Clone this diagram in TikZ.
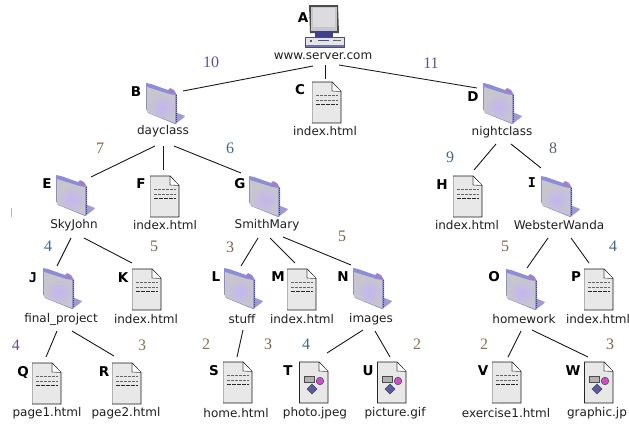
\documentclass[tikz,border=0pt]{standalone}
\usepackage{fontspec}
\setmainfont{DejaVu Sans}
\newfontfamily\weightfont{Liberation Serif}
\newfontfamily\slabfont{DejaVu Sans Mono}
\definecolor{wpurple}{HTML}{66508C}
\definecolor{wblue}{HTML}{40688C}
\definecolor{wbrown}{HTML}{7C6448}
\definecolor{wgold}{HTML}{8A7448}
\definecolor{wgrey}{HTML}{5E6470}
\definecolor{folderband}{HTML}{8C8CD8}
\definecolor{folderface}{HTML}{C6C6CC}
\definecolor{folderblob}{HTML}{C4B4F4}
\definecolor{foldershadow}{HTML}{9C9CD0}
\definecolor{folderedge}{HTML}{40407C}
\tikzset{
  x=1pt,y=-1pt,
  connector/.style={draw=black!90,line width=0.9pt},
  filename/.style={font=\fontsize{12}{12}\selectfont,text=black!88,inner sep=0pt,minimum height=12pt},
  lettermark/.style={font=\fontsize{13.5}{14}\selectfont\bfseries,inner sep=0pt},
  weightmark/.style={font=\weightfont\fontsize{16}{16}\selectfont,inner sep=0pt},
  iconbox/.style={anchor=north west,inner sep=0pt,outer sep=0pt},
  pics/folderpic/.style={code={
    \fill[fill=foldershadow] (30,29) -- (40,33) -- (37,36) -- (30,41) -- cycle;
    \fill[fill=folderband] (1,0) -- (6,1) -- (23,7) -- (25,5) -- (29,7) -- (32,12) -- (32,40) -- (30,41) -- (3,30) -- (1,26) -- cycle;
    \fill[fill=folderface] (2,4) -- (24,11) -- (30,12) -- (30,40) -- (2,29) -- cycle;
    \begin{scope}
      \clip (2,4) -- (24,11) -- (30,12) -- (30,40) -- (2,29) -- cycle;
      \shade[inner color=folderblob,outer color=folderface] (17,24) circle [radius=14pt];
    \end{scope}
    \draw[line width=1pt,draw=folderedge,densely dotted] (31,12) -- (31,40);
    \fill[fill=violet!60!white!85!pink] (24,6.5) -- (28,8) -- (29,11) -- (25,9.5) -- cycle;
  }},
  pics/docbase/.style={code={
    \fill[black!9] (0,0) -- (21,0) -- (29,9) -- (29,41) -- (0,41) -- cycle;
    \draw[black!30,line width=0.6pt] (0,0) -- (0,41);
    \draw[black!90,line width=0.8pt] (0,0) -- (20,0) -- (29,9.5) -- (29,41) -- (0,41);
    \fill[white] (20,0.6) -- (20,9) -- (28.3,9) -- cycle;
    \draw[black!70,line width=0.6pt] (20,0) -- (20,9) -- (29,9.5);
  }},
  pics/docpic/.style={code={
    \pic {docbase};
    \draw[black!60,line width=1pt,dash pattern=on 3pt off 1pt] (4,13) -- (26,13);
    \draw[black!60,line width=1pt,dash pattern=on 3pt off 1pt] (4,18) -- (26,18);
    \draw[black!85,line width=1pt,dash pattern=on 4pt off 1pt] (4,22) -- (26,22);
  }},
  pics/imgpic/.style={code={
    \pic {docbase};
    \draw[black!85,line width=0.8pt] (0,0) -- (0,41);
    \filldraw[fill=black!30,draw=black!70,line width=0.5pt] (5,14) rectangle (15,20);
    \filldraw[fill=violet!55!magenta!70!white,draw=black!70,line width=0.5pt] (21,19) circle [radius=3.8pt];
    \filldraw[fill=blue!45!black!65,draw=black!70,line width=0.4pt] (13,22) -- (18,27) -- (13,32) -- (8,27) -- cycle;
  }},
  pics/serverpic/.style={code={
    \fill[black!70] (4,0) -- (33,0) -- (34,28) -- (5,28) -- cycle;
    \fill[black!22] (6,1.5) rectangle (32,26);
    \fill[blue!12!black!14] (8,3) rectangle (29.5,22);
    \fill[blue!40!black!75] (10,26) rectangle (28,32);
    \fill[black!10] (0,32) rectangle (39,42);
    \draw[blue!30!black!70,line width=0.8pt] (0,32) rectangle (39,42);
    \fill[blue!30!black!55] (0.5,39.5) rectangle (38.5,41.5);
    \fill[blue!40!black!70] (5,35) rectangle (7,37);
    \fill[blue!40!black!70] (13,35) rectangle (24,36.4);
    \fill[black!60] (28,35) rectangle (36,36);
  }}
}
\newcommand\treeentry[7]{%
  \node[iconbox,minimum width=30pt,minimum height=41pt] (#1i) at (#3) {};
  \pic at (#3) {#2};
  \node[lettermark] (#1l) at (#4) {#5};
  \node[filename] (#1) at (#6) {#7};
}
\newcommand\linknodes[4]{\draw[connector] ([shift={(#2)}]#1.center) -- ([shift={(#4)}]#3.north west);}
\newcommand\weight[4]{\node[weightmark,text=#4] (#1) at (#3) {#2};}
\begin{document}
\begin{tikzpicture}
\useasboundingbox (0,0) rectangle (629,423);
\fill[white] (0,0) rectangle (629,423);
\treeentry{A}{serverpic}{305,5}{303,18}{A}{323,56}{www.server.com}
\treeentry{B}{folderpic}{145,83}{136,92}{B}{163,131}{dayclass}
\treeentry{C}{docpic}{312,82}{300,90}{C}{325,131}{index.html}
\treeentry{D}{folderpic}{482,83}{473,97}{D}{502,132}{nightclass}
\treeentry{E}{folderpic}{55,175}{47,184}{E}{74,225}{SkyJohn}
\treeentry{F}{docpic}{150,176}{141,184}{F}{165,225}{index.html}
\treeentry{G}{folderpic}{248,176}{240,184}{G}{267,225}{SmithMary}
\treeentry{H}{docpic}{453,176}{442,185}{H}{467,225}{index.html}
\treeentry{I}{folderpic}{540,176}{532,183}{{\slabfont I}}{559,225}{WebsterWanda}
\treeentry{J}{folderpic}{42,268}{33,278}{{\slabfont J}}{61,319}{final\_project}
\treeentry{K}{docpic}{132,269}{123,278}{K}{146,319}{index.html}
\treeentry{L}{folderpic}{223,268}{216,277}{L}{242,319}{stuff}
\treeentry{M}{docpic}{287,269}{278,277}{M}{302,319}{index.html}
\treeentry{N}{folderpic}{352,268}{343,277}{N}{371,319}{images}
\treeentry{O}{folderpic}{505,269}{494,277}{O}{524,319}{homework}
\treeentry{P}{docpic}{584,269}{576,277}{P}{598,319}{index.html}
\treeentry{Q}{docpic}{32,363}{23,372}{Q}{47,413}{page1.html}
\treeentry{R}{docpic}{112,363}{104,372}{R}{126,413}{page2.html}
\treeentry{S}{docpic}{223,362}{214,371}{S}{236,413}{home.html}
\treeentry{T}{imgpic}{299,362}{288,371}{T}{315,413}{photo.jpeg}
\treeentry{U}{imgpic}{377,362}{368,371}{U}{395,413}{picture.gif}
\treeentry{V}{docpic}{492,362}{483,371}{V}{506,413}{exercise1.html}
\treeentry{W}{imgpic}{584,362}{573,371}{W}{597,413}{graphic.jp}
\linknodes{A}{-10,10}{Bi}{38,8}
\linknodes{A}{2,9}{Ci}{13,-3}
\linknodes{A}{16,9}{Di}{-5,5}
\linknodes{B}{-8,15}{Ei}{36,2}
\linknodes{B}{0,15}{Fi}{13,-6}
\linknodes{B}{11,15}{Gi}{-7,-3}
\linknodes{D}{-6,12}{Hi}{21,-6}
\linknodes{D}{9,12}{Ii}{1,-8}
\linknodes{E}{-3,13}{Ji}{15,-2}
\linknodes{E}{10,13}{Ki}{0,-6}
\linknodes{G}{-9,13}{Li}{18,-2}
\linknodes{G}{3,13}{Mi}{8,-6}
\linknodes{G}{16,12}{Ni}{-1,-3}
\linknodes{I}{-11,13}{Oi}{22,-1}
\linknodes{I}{12,13}{Pi}{5,-6}
\linknodes{J}{-4,12}{Qi}{14,-6}
\linknodes{J}{11,12}{Ri}{2,-7}
\linknodes{L}{1,11}{Si}{14,-5}
\linknodes{N}{-8,11}{Ti}{28,-9}
\linknodes{N}{4,12}{Ui}{13,-5}
\linknodes{O}{-3,12}{Vi}{16,-5}
\linknodes{O}{8,11}{Wi}{4,-5}
\weight{w1}{10}{211,62}{wpurple}
\weight{w2}{11}{431,63}{wpurple}
\weight{w3}{7}{100,148}{wbrown}
\weight{w4}{6}{230,148}{wblue}
\weight{w5}{9}{450,157}{wblue}
\weight{w6}{8}{553,148}{wgrey}
\weight{w7}{4}{48,246}{wblue}
\weight{w8}{5}{154,246}{wbrown}
\weight{w9}{3}{230,247}{wbrown}
\weight{w10}{5}{342,236}{wbrown}
\weight{w11}{5}{505,246}{wbrown}
\weight{w12}{4}{613,246}{wblue}
\weight{w13}{4}{16,345}{wpurple}
\weight{w14}{3}{142,345}{wgold}
\weight{w15}{2}{206,344}{wgold}
\weight{w16}{3}{268,344}{wbrown}
\weight{w17}{4}{306,344}{wblue}
\weight{w18}{2}{417,344}{wgold}
\weight{w19}{2}{484,344}{wgold}
\weight{w20}{3}{610,344}{wbrown}
\draw[blue!30!black!30,line width=0.8pt] (11.5,208) -- (11.5,217);
\end{tikzpicture}
\end{document}
